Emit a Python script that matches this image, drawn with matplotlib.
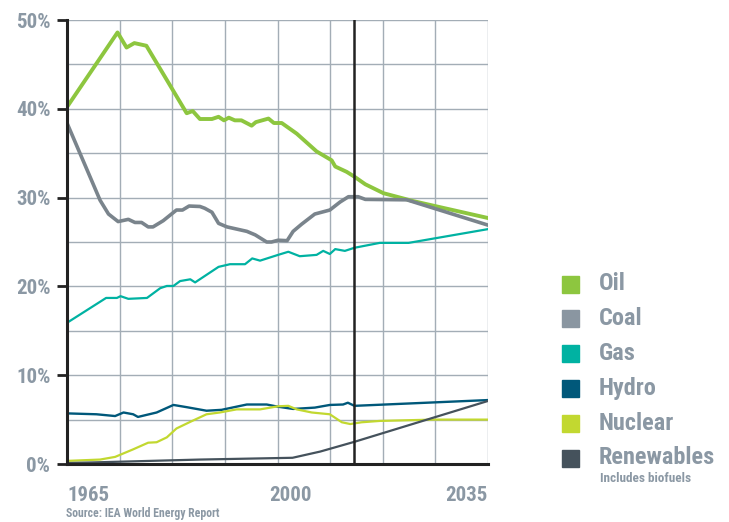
import matplotlib
matplotlib.use('Agg')
import matplotlib.pyplot as plt
import numpy as np

font = ['Roboto Condensed', 'DejaVu Sans']
txt_gray = '#8b98a4'

# shares of world primary energy (%)
oil_x = [1965, 1973.4, 1974.9, 1976.2, 1978.2, 1984.9, 1985.9, 1987.1, 1989.1, 1990.2, 1991.1, 1991.9,
         1992.9, 1994.0, 1995.7, 1996.4, 1998.5, 1999.4, 2000.7, 2003.2, 2006.5, 2009.0, 2009.6,
         2011.5, 2012.8, 2014.6, 2017.6, 2022.6, 2035]
oil_y = [40.2, 48.6, 46.9, 47.4, 47.1, 39.5, 39.75, 38.85, 38.85, 39.1, 38.7, 39.0,
         38.7, 38.7, 38.1, 38.5, 38.9, 38.4, 38.4, 37.2, 35.2, 34.2, 33.5,
         32.9, 32.35, 31.5, 30.5, 29.6, 27.7]

coal_x = [1965, 1970.5, 1971.9, 1973.5, 1975.2, 1976.3, 1977.4, 1978.5, 1979.3, 1981.0, 1983.2, 1984.2,
          1985.3, 1987.1, 1987.9, 1989.1, 1990.2, 1991.6, 1994.9, 1996.3, 1998.2, 1999.0, 2000.1,
          2001.6, 2002.6, 2004.0, 2006.2, 2008.7, 2010.4, 2011.8, 2013.4, 2014.6, 2021.5, 2035]
coal_y = [38.4, 29.7, 28.15, 27.3, 27.55, 27.2, 27.2, 26.7, 26.7, 27.4, 28.6, 28.6,
          29.05, 29.0, 28.8, 28.35, 27.1, 26.7, 26.2, 25.8, 25.0, 25.0, 25.2,
          25.15, 26.2, 27.0, 28.15, 28.6, 29.5, 30.1, 30.1, 29.8, 29.75, 26.9]

gas_x = [1965, 1971.5, 1973.3, 1973.9, 1975.2, 1978.3, 1980.5, 1981.6, 1982.7, 1983.8, 1985.5, 1986.3,
         1990.2, 1992.1, 1994.6, 1995.8, 1997.1, 2000.1, 2001.8, 2003.7, 2006.5, 2007.6, 2008.7,
         2009.6, 2011.2, 2012.8, 2017.0, 2021.8, 2035]
gas_y = [15.9, 18.7, 18.7, 18.9, 18.6, 18.7, 19.8, 20.05, 20.05, 20.6, 20.8, 20.45,
         22.2, 22.5, 22.5, 23.15, 22.9, 23.55, 23.9, 23.4, 23.55, 24.0, 23.65,
         24.2, 24.0, 24.35, 24.9, 24.9, 26.45]

hydro_x = [1965, 1969.9, 1973.0, 1974.4, 1976.0, 1976.8, 1979.9, 1982.7, 1984.9, 1988.2, 1990.7, 1994.9,
           1998.2, 2000.1, 2002.6, 2006.2, 2008.7, 2010.9, 2011.7, 2012.8, 2035]
hydro_y = [5.7, 5.6, 5.4, 5.8, 5.6, 5.3, 5.8, 6.65, 6.4, 6.0, 6.1, 6.7,
           6.7, 6.45, 6.2, 6.35, 6.65, 6.7, 6.9, 6.55, 7.2]

nuc_x = [1965, 1970.5, 1973.0, 1976.0, 1978.5, 1979.9, 1981.6, 1983.2, 1985.5, 1988.2, 1990.4, 1993.2,
         1997.1, 2000.1, 2001.8, 2003.2, 2005.7, 2008.7, 2010.7, 2012.1, 2014.0, 2017.0, 2025.9, 2035]
nuc_y = [0.35, 0.5, 0.8, 1.65, 2.4, 2.45, 3.0, 4.0, 4.75, 5.6, 5.8, 6.15,
         6.15, 6.5, 6.55, 6.15, 5.8, 5.6, 4.7, 4.5, 4.7, 4.85, 5.0, 5.0]

ren_x = [1965, 1987.1, 2002.5, 2007.1, 2012.8, 2035]
ren_y = [0.1, 0.5, 0.7, 1.4, 2.5, 7.1]

names = ['Oil', 'Coal', 'Gas', 'Hydro', 'Nuclear', 'Renewables']
line_colors = ['#8dc63f', '#7a848c', '#00b2a2', '#00587a', '#c2d830', '#45525c']
box_colors = ['#8dc63f', '#8a96a1', '#00b2a2', '#00587a', '#c2d830', '#45525c']
widths = [2.8, 2.6, 1.6, 1.7, 1.6, 1.6]
series = [(oil_x, oil_y), (coal_x, coal_y), (gas_x, gas_y),
          (hydro_x, hydro_y), (nuc_x, nuc_y), (ren_x, ren_y)]

fig = plt.figure(figsize=(7.29, 5.22), dpi=100)
ax = fig.add_axes([67 / 729, 58 / 522, 421 / 729, 444 / 522])

# grid
grid_x = np.linspace(1965, 2035, 9)
ax.set_xticks(grid_x)
ax.set_xticklabels([])
ax.tick_params(axis='x', length=0)
ax.set_yticks(np.arange(0, 51, 10))
ax.set_yticks(np.arange(0, 51, 5), minor=True)
ax.grid(True, which='both', color='#a3adb6', lw=1.0, zorder=0)
ax.tick_params(axis='y', which='minor', length=0)
ax.tick_params(axis='y', which='major', length=7, width=2, color='#222222',
               labelsize=15, labelcolor=txt_gray, pad=5)
ax.set_yticklabels(['%d%%' % v for v in range(0, 51, 10)], family=font, fontweight='bold')

for (xs, ys), c, w in zip(series, line_colors, widths):
    ax.plot(xs, ys, color=c, lw=w, zorder=3, solid_joinstyle='round')

ax.axvline(2012.8, color='#222222', lw=1.8, zorder=4)

ax.set_xlim(1965, 2035)
ax.set_ylim(0, 50)
for s in ['top', 'right']:
    ax.spines[s].set_visible(False)
for s in ['left', 'bottom']:
    ax.spines[s].set_color('#222222')
    ax.spines[s].set_linewidth(2.2)
    ax.spines[s].set_zorder(5)

# year labels
for yr, x, ha in [('1965', 1965, 'left'), ('2000', 2002.2, 'center'), ('2035', 2035, 'right')]:
    ax.text(x, -3.5, yr, ha=ha, va='center', fontsize=15, fontweight='bold',
            color=txt_gray, family=font)
fig.text(66 / 729, 1 - 514 / 522, 'Source: IEA World Energy Report', ha='left', va='center',
         fontsize=8.5, fontweight='bold', color=txt_gray, family=font)

# legend
for i, (n, c) in enumerate(zip(names, box_colors)):
    yc = 284 + i * 34.8
    fig.patches.append(plt.Rectangle((562 / 729, 1 - (yc + 8.5) / 522), 17 / 729, 17 / 522,
                                     transform=fig.transFigure, color=c, figure=fig))
    fig.text(599 / 729, 1 - yc / 522, n, ha='left', va='center', fontsize=17.5,
             fontweight='bold', color=txt_gray, family=font)
fig.text(600 / 729, 1 - 479 / 522, 'Includes biofuels', ha='left', va='center', fontsize=9.5,
         fontweight='bold', color=txt_gray, family=font)

fig.savefig('out.png', dpi=100)
